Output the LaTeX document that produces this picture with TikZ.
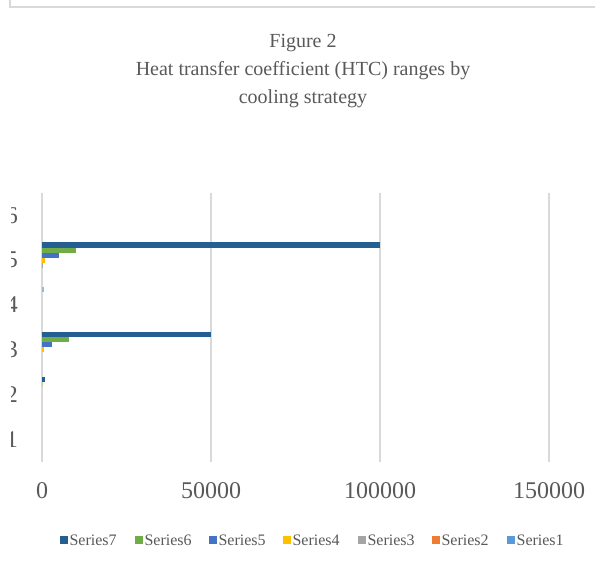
\documentclass[tikz,border=0pt]{standalone}
\usepackage{fontspec}
\setmainfont{Liberation Serif}
\definecolor{txt}{HTML}{595959}
\definecolor{grid}{HTML}{D9D9D9}
\definecolor{sOne}{HTML}{5B9BD5}
\definecolor{sTwo}{HTML}{ED7D31}
\definecolor{sThree}{HTML}{A5A5A5}
\definecolor{sFour}{HTML}{FFC000}
\definecolor{sFive}{HTML}{4472C4}
\definecolor{sSix}{HTML}{70AD47}
\definecolor{sSeven}{HTML}{255E91}
\tikzset{
  gridline/.style={draw=grid, line width=1.5pt},
  frameline/.style={draw=grid, line width=1.5pt},
  ticklabel/.style={text=txt, inner sep=0pt, font=\fontsize{24}{28}\selectfont},
  catlabel/.style={text=txt, inner sep=0pt, anchor=east, font=\fontsize{24}{28}\selectfont},
  titletext/.style={text=txt, inner sep=0pt, align=center, font=\fontsize{20}{28}\selectfont},
  legkey/.style={minimum size=7.5pt, inner sep=0pt, anchor=west},
  legtext/.style={text=txt, inner sep=0pt, anchor=west, font=\fontsize{16}{18}\selectfont},
}
\begin{document}
\begin{tikzpicture}[x=1pt,y=1pt]
\useasboundingbox (0,0) rectangle (595,567);
% chart frame (left and top edges)
\draw[frameline] (10,567) -- (10,560) -- (595,560);

% title
\node[titletext] (title) at (303,496) {Figure 2\\Heat transfer coefficient (HTC) ranges by\\cooling strategy};

% value axis: values in thousands, 3.38pt per thousand, zero at x=42
\begin{scope}[xshift=42pt, x=3.38pt]
  \foreach \v/\lab in {0/0,50/50000,100/100000,150/150000}{
    \draw[gridline] (\v,105) -- (\v,374);
    \node[ticklabel] (tick\v) at (\v,76) {\lab};
  }
  % bars: category / series / value (thousands)
  \foreach \c/\s/\v/\col in {
      5/7/100/sSeven, 5/6/10/sSix, 5/5/5/sFive, 5/4/0.8/sFour, 5/3/0.4/sThree,
      4/7/0.5/sSeven!45,
      3/7/50/sSeven, 3/6/8/sSix, 3/5/3/sFive, 3/4/0.5/sFour,
      2/7/1/sSeven, 2/6/0.3/sSix!50}{
    \pgfmathsetmacro{\yb}{105+(\c-1)*44.83+4.56+(\s-1)*5.1}
    \fill[\col] (0,\yb) rectangle (\v,\yb+5.1);
  }
\end{scope}

% category labels, cut off by the chart frame
\begin{scope}
  \clip (11,0) rectangle (595,567);
  \foreach \c in {1,...,6}{
    \node[catlabel] (cat\c) at (18,{105+(\c-0.5)*44.83}) {\c};
  }
\end{scope}

% legend
\foreach \i/\col/\name/\xx in {7/sSeven/Series7/60, 6/sSix/Series6/135, 5/sFive/Series5/209,
    4/sFour/Series4/283, 3/sThree/Series3/358, 2/sTwo/Series2/432, 1/sOne/Series1/507}{
  \node[legkey, fill=\col] (key\i) at (\xx,27) {};
  \node[legtext] (leg\i) at ([xshift=1.5pt]key\i.east) {\name};
}
\end{tikzpicture}
\end{document}
